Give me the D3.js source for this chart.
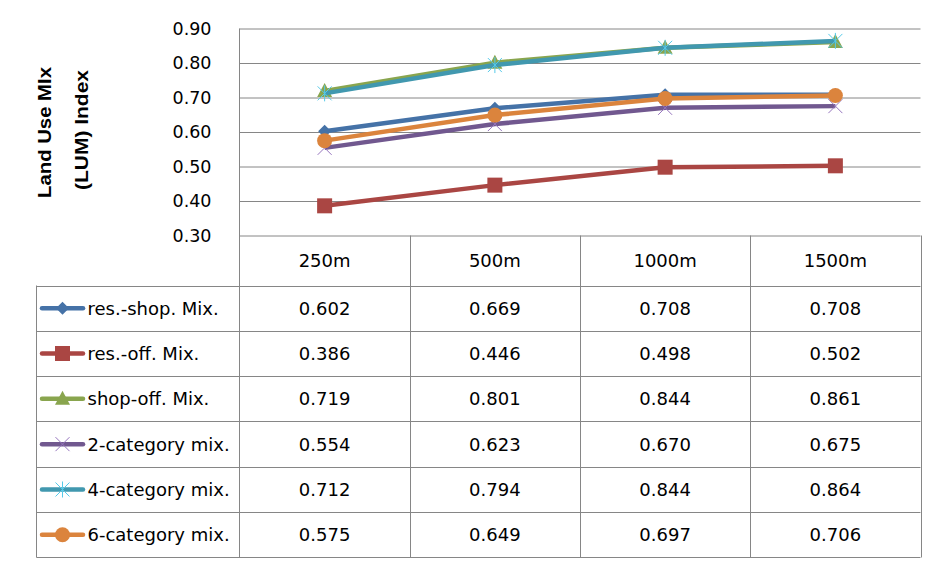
<!DOCTYPE html>
<html><head><meta charset="utf-8">
<script src="https://cdn.jsdelivr.net/npm/d3@7"></script>
<style>body{margin:0;background:#fff}svg{display:block}</style>
</head><body>
<svg id="c" width="944" height="569"></svg>
<script>
const categories = ["250m","500m","1000m","1500m"];
const seriesNames = ["res.-shop. Mix.","res.-off. Mix.","shop-off. Mix.","2-category mix.","4-category mix.","6-category mix."];
const resShop = [0.602,0.669,0.708,0.708];
const resOff = [0.386,0.446,0.498,0.502];
const shopOff = [0.719,0.801,0.844,0.861];
const cat2 = [0.554,0.623,0.670,0.675];
const cat4 = [0.712,0.794,0.844,0.864];
const cat6 = [0.575,0.649,0.697,0.706];
const yTicks = [0.30,0.40,0.50,0.60,0.70,0.80,0.90];
const colors = ["#4572A7","#AA4643","#89A54E","#71588F","#4198AF","#DB843D"];
const markers = ["diamond","square","triangle","x","star","circle"];
const allValues = [resShop,resOff,shopOff,cat2,cat4,cat6];

const svg = d3.select("#c");
const L = 239.5, R = 920.5, T = 28.5, B = 235.5;
const font = "'DejaVu Sans',sans-serif";
const grid = "#868686";
const fs = 18;

const x = d3.scaleBand().domain(categories).range([L, R]);
const y = d3.scaleLinear().domain([0.3, 0.9]).range([B, T]);

// gridlines
const yAxis = d3.axisLeft(y).tickValues(yTicks).tickFormat(d3.format(".2f")).tickSize(-(R - L)).tickPadding(28);
const ga = svg.append("g").attr("transform", `translate(${L},0)`).call(yAxis);
ga.select(".domain").remove();
ga.selectAll(".tick line").attr("stroke", grid).attr("stroke-width", 1);
ga.selectAll(".tick text").attr("font-family", font).attr("font-size", 17.5).attr("fill", "#000");

// y title
const tg = svg.append("g").attr("font-family", "'Liberation Sans',Arial,sans-serif").attr("font-weight", "bold").attr("font-size", 17.5).attr("fill", "#000");
tg.append("text").attr("transform", "translate(51,132.5) rotate(-90)").attr("text-anchor", "middle")
  .attr("textLength", 131).attr("lengthAdjust", "spacingAndGlyphs").text("Land Use MIx");
tg.append("text").attr("transform", "translate(88,130) rotate(-90)").attr("text-anchor", "middle")
  .attr("textLength", 120).attr("lengthAdjust", "spacingAndGlyphs").text("(LUM) Index");

// table
const rowTop = 285.5, rowH = 45.33, nRows = seriesNames.length;
const tBottom = rowTop + rowH * nRows;
const tbl = svg.append("g").attr("stroke", grid).attr("stroke-width", 1);
tbl.append("line").attr("x1", L).attr("x2", L).attr("y1", T).attr("y2", tBottom);
categories.forEach((c, i) => {
  const xr = x(c) + x.bandwidth();
  tbl.append("line").attr("x1", Math.round(xr) + 0.5).attr("x2", Math.round(xr) + 0.5).attr("y1", B).attr("y2", tBottom);
});
const LL = 36.5;
tbl.append("line").attr("x1", LL).attr("x2", LL).attr("y1", rowTop).attr("y2", tBottom);
for (let i = 0; i <= nRows; i++) {
  const yy = Math.round(rowTop + rowH * i) + 0.5;
  tbl.append("line").attr("x1", LL).attr("x2", R).attr("y1", yy).attr("y2", yy);
}
svg.append("g").selectAll("text").data(categories).join("text")
  .attr("x", d => x(d) + x.bandwidth() / 2).attr("y", (B + rowTop) / 2).attr("dy", "0.36em")
  .attr("text-anchor", "middle").attr("font-family", font).attr("font-size", fs).text(d => d);

function markerPath(type, g, cx, cy, color) {
  if (type === "diamond") {
    g.append("path").attr("d", `M${cx},${cy-6.5}L${cx+6.5},${cy}L${cx},${cy+6.5}L${cx-6.5},${cy}Z`).attr("fill", color);
  } else if (type === "square") {
    g.append("rect").attr("x", cx - 7.5).attr("y", cy - 7.5).attr("width", 15).attr("height", 15).attr("fill", color);
  } else if (type === "triangle") {
    g.append("path").attr("d", `M${cx},${cy-8}L${cx+7.5},${cy+6}L${cx-7.5},${cy+6}Z`).attr("fill", color);
  } else if (type === "x") {
    g.append("path").attr("d", `M${cx-7},${cy-7}L${cx+7},${cy+7}M${cx-7},${cy+7}L${cx+7},${cy-7}`).attr("stroke", color).attr("stroke-width", 1).attr("fill", "none");
  } else if (type === "star") {
    g.append("path").attr("d", `M${cx-7},${cy-7}L${cx+7},${cy+7}M${cx-7},${cy+7}L${cx+7},${cy-7}M${cx},${cy-8}L${cx},${cy+8}`).attr("stroke", color).attr("stroke-width", 1).attr("fill", "none");
  } else if (type === "circle") {
    g.append("circle").attr("cx", cx).attr("cy", cy).attr("r", 7.5).attr("fill", color);
  }
}
const mcol = i => (markers[i] === "x" || markers[i] === "star") ? d3.color(colors[i]).brighter(0.8) : colors[i];

seriesNames.forEach((name, i) => {
  const cy = rowTop + rowH * (i + 0.5);
  const g = svg.append("g");
  g.append("line").attr("x1", 42).attr("x2", 83).attr("y1", cy).attr("y2", cy).attr("stroke", colors[i]).attr("stroke-width", 4.5).attr("stroke-linecap", "round");
  markerPath(markers[i], g, 62.5, cy, mcol(i));
  g.append("text").attr("x", 87.5).attr("y", cy).attr("dy", "0.36em").attr("font-family", font).attr("font-size", fs).text(name);
  g.selectAll("text.v").data(allValues[i]).join("text").attr("class", "v")
    .attr("x", (d, j) => x(categories[j]) + x.bandwidth() / 2).attr("y", cy).attr("dy", "0.36em")
    .attr("text-anchor", "middle").attr("font-family", font).attr("font-size", fs).text(d => d.toFixed(3));
});

const line = d3.line().x((d, j) => x(categories[j]) + x.bandwidth() / 2).y(d => y(d));
allValues.forEach((vals, i) => {
  const g = svg.append("g");
  g.append("path").attr("d", line(vals)).attr("fill", "none").attr("stroke", colors[i]).attr("stroke-width", 4.5).attr("stroke-linejoin", "round");
  vals.forEach((v, j) => markerPath(markers[i], g, x(categories[j]) + x.bandwidth() / 2, y(v), mcol(i)));
});
</script>
</body></html>
